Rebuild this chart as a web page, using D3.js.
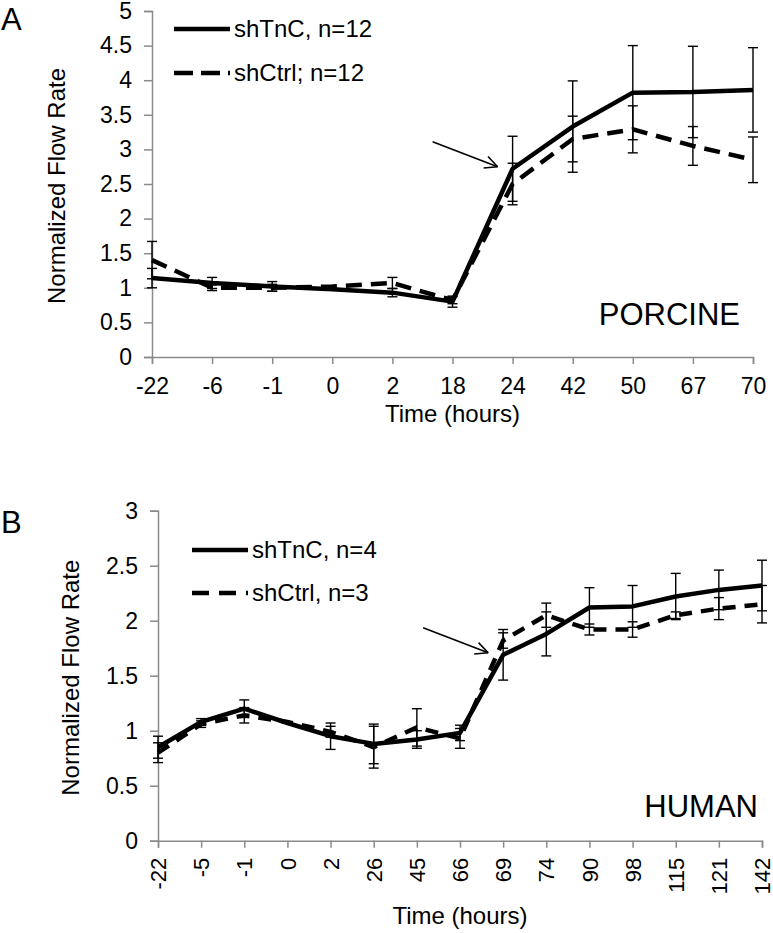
<!DOCTYPE html>
<html>
<head>
<meta charset="utf-8">
<script src="https://cdn.jsdelivr.net/npm/d3@7"></script>
<style>
  html, body { margin: 0; padding: 0; background: #fff; }
  svg { display: block; }
  text { font-family: "Liberation Sans", Arial, sans-serif; fill: #000; }
</style>
</head>
<body>
<script>
// ---------- DATA ----------
const timeA = ["-22","-6","-1","0","2","18","24","42","50","67","70"];
const tncA     = [1.14,1.07,1.02,0.98,0.93,0.80,2.72,3.33,3.82,3.83,3.86];
const tncAerr  = [0.14,0.08,0.07,0.00,0.06,0.08,0.47,0.66,0.68,0.66,0.61];
const ctrlA    = [1.40,1.00,1.00,1.02,1.07,0.82,2.50,3.15,3.29,3.05,2.85];
const ctrlAerr = [0.27,0.04,0.05,0.00,0.08,0.05,0.30,0.33,0.34,0.28,0.33];
const yTicksA  = [0,0.5,1,1.5,2,2.5,3,3.5,4,4.5,5];
const legendA  = ["shTnC, n=12", "shCtrl; n=12"];

const timeB = ["-22","-5","-1","0","2","26","45","66","69","74","90","98","115","121","142"];
const tncB     = [0.85,1.08,1.20,1.07,0.95,0.88,0.92,0.98,1.69,1.88,2.12,2.13,2.22,2.28,2.32];
const tncBerr  = [0.10,0.03,0.08,0.00,0.12,0.18,0.08,0.07,0.23,0.20,0.18,0.19,0.21,0.18,0.23];
const ctrlB    = [0.80,1.06,1.14,1.08,0.99,0.85,1.03,0.93,1.82,2.05,1.92,1.92,2.05,2.11,2.15];
const ctrlBerr = [0.09,0.03,0.07,0.00,0.05,0.19,0.17,0.09,0.07,0.11,0.05,0.07,0.03,0.10,0.17];
const yTicksB  = [0,0.5,1,1.5,2,2.5,3];
const legendB  = ["shTnC, n=4", "shCtrl, n=3"];

// ---------- DRAW ----------
const W = 773, H = 933;
const svg = d3.select("body").append("svg").attr("width", W).attr("height", H);

function drawPanel(cfg) {
  const g = svg.append("g");
  const x = d3.scalePoint().domain(cfg.cats).range([cfg.x0, cfg.x1]).padding(0);
  const y = d3.scaleLinear().domain([0, cfg.yMax]).range([cfg.yb, cfg.yt]);

  // y axis
  const ya = g.append("g").attr("transform", `translate(${cfg.x0},0)`)
    .call(d3.axisLeft(y).tickValues(cfg.yTicks).tickFormat(d => String(d)).tickSizeOuter(0).tickSize(8).tickPadding(12));
  // x axis
  const xa = g.append("g").attr("transform", `translate(0,${cfg.yb})`)
    .call(d3.axisBottom(x).tickSizeOuter(0).tickSize(7).tickPadding(cfg.rotate ? 10 : 14));
  [ya, xa].forEach(a => {
    a.select(".domain").attr("stroke", "#8a8a8a").attr("stroke-width", 1.5);
    a.selectAll(".tick line").attr("stroke", "#8a8a8a").attr("stroke-width", 1.5);
    a.selectAll(".tick text").attr("font-size", 23).attr("font-family", '"Liberation Sans", Arial, sans-serif').attr("fill", "#000");
  });
  if (cfg.rotate) {
    xa.selectAll(".tick text")
      .attr("font-size", 22)
      .attr("transform", "rotate(-90)")
      .attr("text-anchor", "end")
      .attr("x", -17).attr("y", 0).attr("dy", "0.35em");
  }

  // axis titles
  g.append("text").attr("transform", `translate(${cfg.ytx},${(cfg.yt + cfg.yb) / 2 + 2}) rotate(-90)`)
    .attr("text-anchor", "middle").attr("dy", "0.35em").attr("font-size", 24).text("Normalized Flow Rate");
  g.append("text").attr("x", (cfg.x0 + cfg.x1) / 2).attr("y", cfg.xty)
    .attr("text-anchor", "middle").attr("font-size", 24).text("Time (hours)");

  // error bars
  const series = [
    { v: cfg.tnc, e: cfg.tncErr },
    { v: cfg.ctrl, e: cfg.ctrlErr }
  ];
  series.forEach(s => {
    cfg.cats.forEach((c, i) => {
      if (!s.e[i]) return;
      const cx = x(c), top = y(s.v[i] + s.e[i]), bot = y(s.v[i] - s.e[i]);
      g.append("line").attr("x1", cx).attr("x2", cx).attr("y1", top).attr("y2", bot)
        .attr("stroke", "#000").attr("stroke-width", 1.4);
      [top, bot].forEach(yy => g.append("line").attr("x1", cx - 5).attr("x2", cx + 5)
        .attr("y1", yy).attr("y2", yy).attr("stroke", "#000").attr("stroke-width", 1.4));
    });
  });

  const line = d3.line().x(d => x(d[0])).y(d => y(d[1]));
  g.append("path").datum(cfg.cats.map((c, i) => [c, cfg.ctrl[i]]))
    .attr("d", line).attr("fill", "none").attr("stroke", "#000").attr("stroke-width", 4.5)
    .attr("stroke-dasharray", cfg.dash);
  g.append("path").datum(cfg.cats.map((c, i) => [c, cfg.tnc[i]]))
    .attr("d", line).attr("fill", "none").attr("stroke", "#000").attr("stroke-width", 4.5)
    .attr("stroke-linejoin", "round");

  // legend
  const L = cfg.legend;
  g.append("line").attr("x1", L.x).attr("x2", L.x + 56).attr("y1", L.y1).attr("y2", L.y1)
    .attr("stroke", "#000").attr("stroke-width", 4.5);
  g.append("line").attr("x1", L.x).attr("x2", L.x + 56).attr("y1", L.y2).attr("y2", L.y2)
    .attr("stroke", "#000").attr("stroke-width", 4.5).attr("stroke-dasharray", L.dash);
  g.append("text").attr("x", L.x + 60).attr("y", L.y1).attr("dy", "0.35em").attr("font-size", 24).text(cfg.labels[0]);
  g.append("text").attr("x", L.x + 60).attr("y", L.y2).attr("dy", "0.35em").attr("font-size", 24).text(cfg.labels[1]);

  // arrow pointing at the first post-step point
  const ai = cfg.arrowIdx;
  const tipX = x(cfg.cats[ai]) + cfg.arrow.dx, tipY = y(cfg.tnc[ai]) + cfg.arrow.dy;
  const tailX = tipX - 65, tailY = tipY - 25;
  g.append("line").attr("x1", tailX).attr("y1", tailY).attr("x2", tipX).attr("y2", tipY)
    .attr("stroke", "#000").attr("stroke-width", 1.6);
  const ang = Math.atan2(tipY - tailY, tipX - tailX);
  [0.45, -0.45].forEach(da => {
    g.append("line").attr("x1", tipX).attr("y1", tipY)
      .attr("x2", tipX - 14 * Math.cos(ang + da)).attr("y2", tipY - 14 * Math.sin(ang + da))
      .attr("stroke", "#000").attr("stroke-width", 1.6);
  });

  // panel letter and species label
  g.append("text").attr("x", 1).attr("y", cfg.letterY).attr("font-size", 31)
    .attr("font-family", '"Open Sans", sans-serif').text(cfg.letter);
  g.append("text").attr("x", cfg.spX).attr("y", cfg.spY).attr("text-anchor", "end").attr("font-size", 31)
    .attr("font-family", '"Open Sans", sans-serif').text(cfg.species);
}

drawPanel({
  cats: timeA, tnc: tncA, tncErr: tncAerr, ctrl: ctrlA, ctrlErr: ctrlAerr,
  yTicks: yTicksA, yMax: 5, labels: legendA,
  x0: 152, x1: 753, yt: 11, yb: 357, ytx: 57, xty: 422,
  dash: "16,9", rotate: false,
  legend: { x: 174, y1: 29, y2: 73, dash: "19,8" },
  arrowIdx: 6, arrow: { dx: -15, dy: -2 },
  letter: "A", letterY: 30, species: "PORCINE", spX: 740, spY: 325
});

drawPanel({
  cats: timeB, tnc: tncB, tncErr: tncBerr, ctrl: ctrlB, ctrlErr: ctrlBerr,
  yTicks: yTicksB, yMax: 3, labels: legendB,
  x0: 158, x1: 762, yt: 510.7, yb: 840.7, ytx: 71, xty: 924,
  dash: "13,9", rotate: true,
  legend: { x: 192, y1: 550, y2: 593, dash: "17,10" },
  arrowIdx: 8, arrow: { dx: -15, dy: -2 },
  letter: "B", letterY: 533, species: "HUMAN", spX: 758, spY: 817
});
</script>
</body>
</html>
